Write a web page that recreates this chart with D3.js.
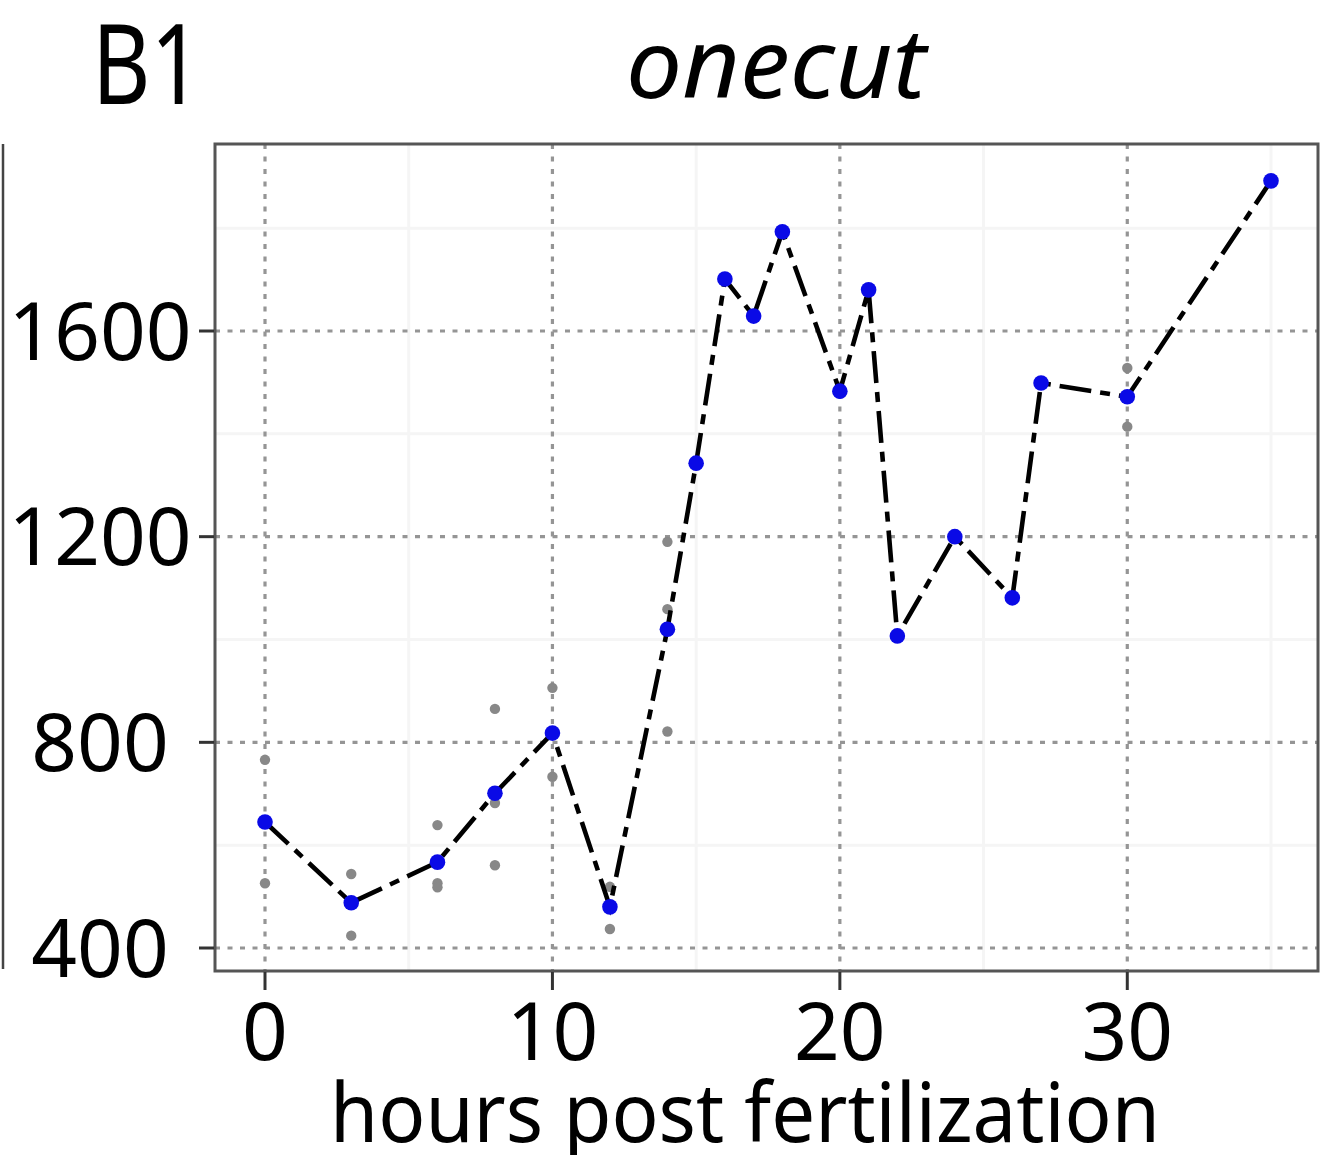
<!DOCTYPE html>
<html>
<head>
<meta charset="utf-8">
<script src="https://cdn.jsdelivr.net/npm/d3@7"></script>
<style>
  html, body { margin: 0; padding: 0; background: #fff; }
  svg { display: block; }
  text { font-family: "Noto Sans", "Open Sans", sans-serif; fill: #000; }
</style>
</head>
<body>
<script>
// Time course of onecut expression (hours post fertilization)
const hours = [0, 3, 6, 8, 10, 12, 14, 15, 16, 17, 18, 20, 21, 22, 24, 26, 27, 30, 35];
const meanExpr = [645, 488, 567, 701, 818, 480, 1020, 1343, 1701, 1629, 1793, 1483, 1680, 1007, 1200, 1081, 1499, 1472, 1892];

// individual replicate measurements
const replicateHours = [0, 0, 3, 3, 6, 6, 6, 8, 8, 8, 10, 10, 12, 12, 14, 14, 14, 30, 30];
const replicateExpr = [766, 526, 544, 424, 639, 526, 518, 865, 561, 682, 906, 733, 519, 437, 1190, 1059, 821, 1528, 1414];

const xTicks = [0, 10, 20, 30];
const xMinorTicks = [5, 15, 25, 35];
const yTicks = [400, 800, 1200, 1600];
const yMinorTicks = [600, 1000, 1400, 1800];

const geneName = "onecut";
const panelLabel = "B1";
const xTitle = "hours post fertilization";

const W = 1322, H = 1155;
const panel = { left: 215, top: 144, right: 1318, bottom: 971 };

const svg = d3.select("body").append("svg")
  .attr("width", W).attr("height", H);

svg.append("rect").attr("width", W).attr("height", H).attr("fill", "#fff");

const x = d3.scaleLinear().domain([0, 35]).range([265, 1271]);
const y = d3.scaleLinear().domain([400, 1600]).range([948, 331]);

// edge of the neighbouring panel
svg.append("line")
  .attr("x1", 3).attr("x2", 3)
  .attr("y1", panel.top).attr("y2", panel.bottom - 2)
  .attr("stroke", "#444").attr("stroke-width", 2.5);

const plot = svg.append("g");

// minor grid
plot.selectAll(".vminor").data(xMinorTicks).join("line")
  .attr("x1", d => x(d)).attr("x2", d => x(d))
  .attr("y1", panel.top).attr("y2", panel.bottom)
  .attr("stroke", "#f5f5f5").attr("stroke-width", 3);
plot.selectAll(".hminor").data(yMinorTicks).join("line")
  .attr("x1", panel.left).attr("x2", panel.right)
  .attr("y1", d => y(d)).attr("y2", d => y(d))
  .attr("stroke", "#f5f5f5").attr("stroke-width", 3);

// major grid (dotted)
plot.selectAll(".vmajor").data(xTicks).join("line")
  .attr("x1", d => x(d)).attr("x2", d => x(d))
  .attr("y1", panel.top).attr("y2", panel.bottom)
  .attr("stroke", "#959595").attr("stroke-width", 3.2)
  .attr("stroke-dasharray", "5,7.5");
plot.selectAll(".hmajor").data(yTicks).join("line")
  .attr("x1", panel.left).attr("x2", panel.right)
  .attr("y1", d => y(d)).attr("y2", d => y(d))
  .attr("stroke", "#959595").attr("stroke-width", 3.2)
  .attr("stroke-dasharray", "5,7.5");

// replicate points
plot.selectAll(".rep").data(replicateHours.map((h, i) => [h, replicateExpr[i]])).join("circle")
  .attr("cx", d => x(d[0])).attr("cy", d => y(d[1]))
  .attr("r", 5.2).attr("fill", "#888");

// mean trajectory
const line = d3.line().x(d => x(d[0])).y(d => y(d[1]));
const meanPts = hours.map((h, i) => [h, meanExpr[i]]);
plot.append("path").datum(meanPts)
  .attr("d", line)
  .attr("fill", "none").attr("stroke", "#000")
  .attr("stroke-width", 4.6)
  .attr("stroke-dasharray", "32,9,10,9");

plot.selectAll(".mean").data(meanPts).join("circle")
  .attr("cx", d => x(d[0])).attr("cy", d => y(d[1]))
  .attr("r", 7.8).attr("fill", "#0a0ae6");

// panel border
svg.append("rect")
  .attr("x", panel.left).attr("y", panel.top)
  .attr("width", panel.right - panel.left).attr("height", panel.bottom - panel.top)
  .attr("fill", "none").attr("stroke", "#555").attr("stroke-width", 3);

// x axis ticks and labels
const xAxis = svg.append("g");
xAxis.selectAll("line").data(xTicks).join("line")
  .attr("x1", d => x(d)).attr("x2", d => x(d))
  .attr("y1", panel.bottom + 1).attr("y2", panel.bottom + 19)
  .attr("stroke", "#333").attr("stroke-width", 3);
xAxis.selectAll("text").data(xTicks).join("text")
  .attr("x", d => x(d)).attr("y", 1060)
  .attr("text-anchor", "middle")
  .attr("font-size", 80)
  .text(d => d);

// y axis ticks and labels
const yAxis = svg.append("g");
yAxis.selectAll("line").data(yTicks).join("line")
  .attr("x1", panel.left - 16).attr("x2", panel.left - 1)
  .attr("y1", d => y(d)).attr("y2", d => y(d))
  .attr("stroke", "#333").attr("stroke-width", 3);
yAxis.selectAll("text").data(yTicks).join("text")
  .attr("x", 100).attr("y", d => y(d))
  .attr("dy", "0.357em")
  .attr("text-anchor", "middle")
  .attr("font-size", 80)
  .text(d => d);

// titles
svg.append("text")
  .attr("x", 330).attr("y", 1142)
  .attr("font-size", 82)
  .attr("textLength", 830).attr("lengthAdjust", "spacingAndGlyphs")
  .text(xTitle);

svg.append("text")
  .attr("x", 776).attr("y", 98)
  .attr("text-anchor", "middle")
  .attr("font-size", 96).attr("font-style", "italic")
  .attr("textLength", 300).attr("lengthAdjust", "spacingAndGlyphs")
  .text(geneName);

svg.append("text")
  .attr("x", 92).attr("y", 104)
  .attr("font-size", 112)
  .attr("textLength", 110).attr("lengthAdjust", "spacingAndGlyphs")
  .text(panelLabel);
</script>
</body>
</html>
